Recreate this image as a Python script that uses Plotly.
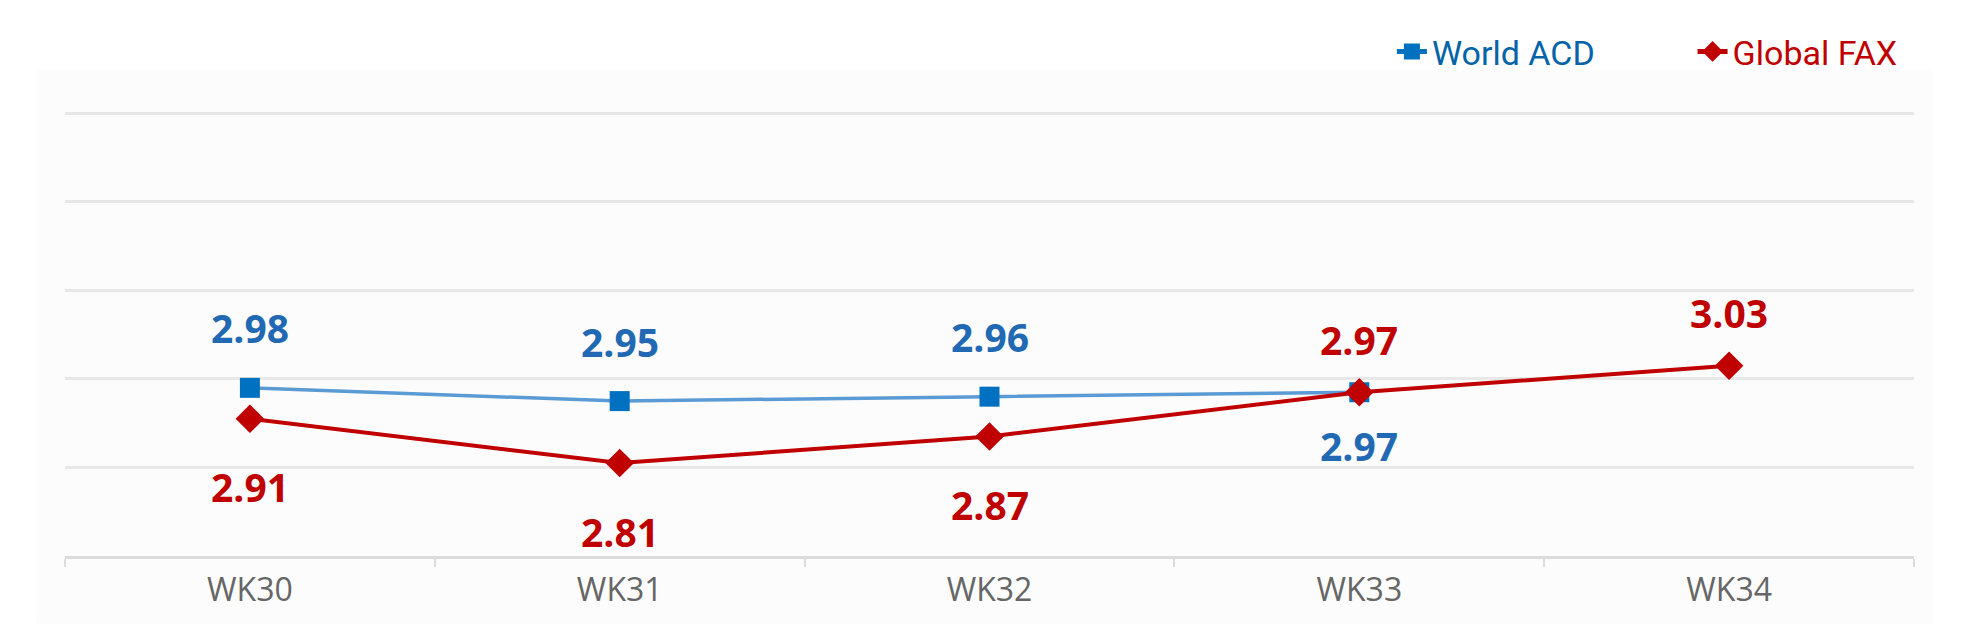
import plotly.graph_objects as go

weeks = ["WK30", "WK31", "WK32", "WK33", "WK34"]
world_acd = [2.98, 2.95, 2.96, 2.97, None]
global_fax = [2.91, 2.81, 2.87, 2.97, 3.03]

# where each value label sits relative to its marker
acd_label_side = ["above", "above", "above", "below", None]
fax_label_side = ["below", "below", "below", "above", "above"]

blue_marker = "#0070c0"
blue_line = "#5b9bd5"
blue_text = "#2169b3"
red = "#c00000"

fig = go.Figure()

fig.add_trace(go.Scatter(x=weeks, y=world_acd, mode="lines+markers", showlegend=False,
                         line=dict(color=blue_line, width=3.5),
                         marker=dict(symbol="square", size=20, color=blue_marker)))
fig.add_trace(go.Scatter(x=weeks, y=global_fax, mode="lines+markers", showlegend=False,
                         line=dict(color=red, width=4),
                         marker=dict(symbol="diamond", size=22, color=red)))

# legend entries (legend line of World ACD is the darker blue)
pad = "\u00a0" * 11
fig.add_trace(go.Scatter(x=[None], y=[None], mode="lines+markers",
                         name="<span style='color:#0563a8'>World ACD</span>" + pad,
                         line=dict(color=blue_marker, width=5),
                         marker=dict(symbol="square", size=18, color=blue_marker)))
fig.add_trace(go.Scatter(x=[None], y=[None], mode="lines+markers",
                         name="<span style='color:#c00000'>Global FAX</span>",
                         line=dict(color=red, width=5),
                         marker=dict(symbol="diamond", size=21, color=red)))

label_font = dict(family="Open Sans", size=39, weight="bold")
shifts = {"acd": (60, -53), "fax": (53, -68)}
for key, vals, sides, col in [("acd", world_acd, acd_label_side, blue_text),
                              ("fax", global_fax, fax_label_side, red)]:
    up, down = shifts[key]
    for wk, v, side in zip(weeks, vals, sides):
        if v is None:
            continue
        fig.add_annotation(x=wk, y=v, text=f"{v:.2f}", showarrow=False,
                           yshift=up if side == "above" else down,
                           font=dict(color=col, **label_font))

# light grey panel behind the chart
fig.add_shape(type="rect", xref="paper", yref="paper", x0=-0.0157, x1=1.0103, y0=-0.151, y1=1.086,
              fillcolor="#fcfcfc", line=dict(width=0), layer="below")

fig.update_layout(
    width=1968, height=640,
    margin=dict(l=57, r=62, t=101, b=92),
    paper_bgcolor="white", plot_bgcolor="rgba(0,0,0,0)",
    legend=dict(orientation="h", x=0.994, xanchor="right", y=1.128, yanchor="middle",
                font=dict(family="Roboto", size=34), bgcolor="rgba(0,0,0,0)"),
)
fig.update_xaxes(range=[-0.5, 4.5], showgrid=False, showline=True, linecolor="#dcdcdc", linewidth=3,
                 ticks="outside", tickson="boundaries", ticklen=8, tickcolor="#dcdcdc", tickwidth=2,
                 ticklabelstandoff=4,
                 tickfont=dict(family="Open Sans", size=32, color="#666666"))
fig.update_yaxes(range=[2.6, 3.61], dtick=0.2, showticklabels=False, zeroline=False,
                 gridcolor="#e8e8e8", gridwidth=3)

fig.write_html("out.html")
